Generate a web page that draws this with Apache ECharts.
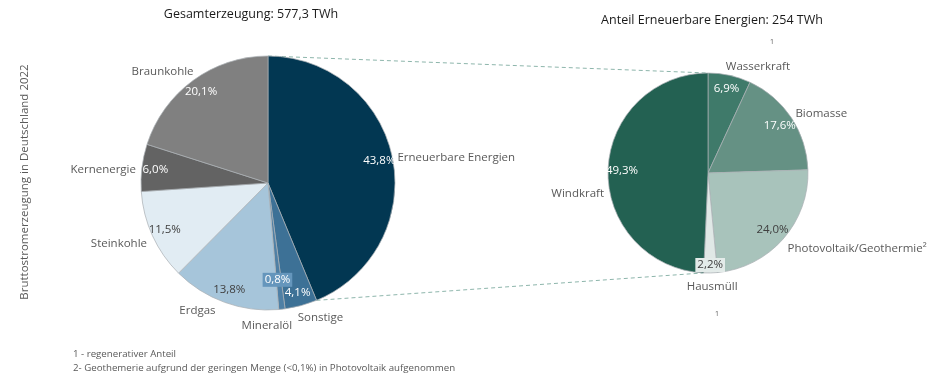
<!DOCTYPE html>
<html><head><meta charset="utf-8">
<script src="https://cdn.jsdelivr.net/npm/echarts@6/dist/echarts.min.js"></script>
<style>html,body{margin:0;padding:0;background:#fff}#c{width:931px;height:380px}</style>
</head><body><div id="c"></div>
<script>
// ---- data ----
const totalCategories = ['Erneuerbare Energien','Sonstige','Mineralöl','Erdgas','Steinkohle','Kernenergie','Braunkohle'];
const totalShares = [43.8, 4.1, 0.8, 13.8, 11.5, 6.0, 20.1];
const renewCategories = ['Wasserkraft','Biomasse','Photovoltaik/Geothermie²','Hausmüll','Windkraft'];
const renewShares = [6.9, 17.6, 24.0, 2.2, 49.3];
const titles = ['Gesamterzeugung: 577,3 TWh', 'Anteil Erneuerbare Energien: 254 TWh'];
const axisName = 'Bruttostromerzeugung in Deutschland 2022';
const footnotes = ['1 - regenerativer Anteil', '2- Geothemerie aufgrund der geringen Menge (<0,1%) in Photovoltaik aufgenommen'];

// ---- styles ----
const FONT = 'Open Sans';
const FS = 11.5;
const leftColors = ['#023752','#3d7196','#4f80a5','#a6c5da','#e1ecf3','#636363','#808080'];
const rightColors = ['#3f7a6a','#659184','#a8c3bb','#e0e8e6','#236152'];
const leftPctColors = ['#fff','#fff','#fff','#404040','#404040','#fff','#fff'];
const rightPctColors = ['#fff','#fff','#404040','#404040','#fff'];
const leftPctBg = [null,null,'#6596bc',null,null,null,null];
const rightPctBg = [null,null,null,'#e3ebe9',null];
const leftPctOffset = [[0,0],[0,0],[-3,-16],[0,0],[0,0],[0,0],[0,0]];
const rightPctOffset = [[0,0],[0,0],[0,0],[0,6],[0,0]];
const leftNameTweak = [{offset:[-6,1]}, {offset:[-10,6]}, {offset:[-46,11]}, {offset:[-2,3]}, {offset:[5,5]}, {offset:[5,3]}, {offset:[9,-4]}];
const rightNameTweak = [{offset:[-10,-3]}, {offset:[-6,-1]}, {offset:[-5,6]}, {offset:[-29,8]}, {offset:[7,23]}];

const LC = [268, 183], LR = 127;
const RC = [708, 173], RR = 100;

const fmt = v => v.toFixed(1).replace('.', ',') + '%';

function baseSeries(center, r, names, vals, colors) {
  return {
    type: 'pie', center: center, radius: r, startAngle: 90, silent: true,
    label: {show: false}, labelLine: {show: false},
    itemStyle: {borderColor: 'rgba(170,175,180,0.9)', borderWidth: 0.8},
    data: names.map((n, i) => ({name: n, value: vals[i], itemStyle: {color: colors[i]}}))
  };
}
function pctSeries(center, r0, r, names, vals, colors, bgs, offs) {
  return {
    type: 'pie', center: center, radius: [r0, r], startAngle: 90, silent: true,
    avoidLabelOverlap: false, minShowLabelAngle: 0,
    labelLayout: {hideOverlap: false},
    itemStyle: {color: 'rgba(0,0,0,0)'},
    labelLine: {show: false},
    label: {show: true, position: 'inside', fontFamily: FONT, fontSize: FS,
      formatter: p => fmt(p.value)},
    data: names.map((n, i) => ({name: n, value: vals[i],
      label: Object.assign({color: colors[i], offset: offs[i]}, bgs[i] ? {backgroundColor: bgs[i], padding: [1, 2]} : {})}))
  };
}
function nameSeries(center, r, names, vals, tweaks) {
  return {
    type: 'pie', center: center, radius: r, startAngle: 90, silent: true,
    avoidLabelOverlap: false, minShowLabelAngle: 0,
    labelLayout: {hideOverlap: false},
    itemStyle: {color: 'rgba(0,0,0,0)'},
    labelLine: {show: false, length: 6, length2: 0},
    label: {show: true, position: 'outside', fontFamily: FONT, fontSize: FS, color: '#595959',
      formatter: p => p.name},
    data: names.map((n, i) => ({name: n, value: vals[i], label: tweaks[i]}))
  };
}

// connector lines computed from pie geometry
function edgePoint(c, r, frac) {
  const a = frac * 2 * Math.PI;
  return [c[0] + r * Math.sin(a), c[1] - r * Math.cos(a)];
}
const renewFracEnd = totalShares[0] / totalShares.reduce((a, b) => a + b, 0);
const windStart = renewShares.slice(0, 4).reduce((a, b) => a + b, 0) / renewShares.reduce((a, b) => a + b, 0);
const p1 = edgePoint(LC, LR, 0), p2 = edgePoint(RC, RR, 0);
const p3 = edgePoint(LC, LR, renewFracEnd), p4 = edgePoint(RC, RR, windStart);
const dash = {stroke: '#8db5ab', lineWidth: 1, lineDash: [4, 3]};

const chart = echarts.init(document.getElementById('c'));
chart.setOption({
  animation: false,
  title: [
    {text: titles[0], left: 246, top: 3, textAlign: 'center', textStyle: {fontFamily: FONT, fontSize: 12.5, fontWeight: 'normal', color: '#1a1a1a'}},
    {text: titles[1], left: 707, top: 9, textAlign: 'center', textStyle: {fontFamily: FONT, fontSize: 12.5, fontWeight: 'normal', color: '#1a1a1a'}}
  ],
  graphic: [
    {type: 'line', shape: {x1: p1[0], y1: p1[1], x2: p2[0], y2: p2[1]}, style: dash, z: 0},
    {type: 'line', shape: {x1: p3[0], y1: p3[1], x2: p4[0], y2: p4[1]}, style: dash, z: 0},
    {type: 'text', x: 25, y: 182, rotation: Math.PI / 2, style: {text: axisName, fontFamily: FONT, fontSize: 11.5, fill: '#595959', textAlign: 'center', textVerticalAlign: 'middle'}},
    {type: 'text', x: 73, y: 354, style: {text: footnotes[0], fontFamily: FONT, fontSize: 9.7, fill: '#595959', textVerticalAlign: 'middle'}},
    {type: 'text', x: 73, y: 368, style: {text: footnotes[1], fontFamily: FONT, fontSize: 9.7, fill: '#595959', textVerticalAlign: 'middle'}},
    {type: 'text', x: 772, y: 42, style: {text: '1', fontFamily: FONT, fontSize: 7, fill: '#595959', textAlign: 'center', textVerticalAlign: 'middle'}},
    {type: 'text', x: 717, y: 314, style: {text: '1', fontFamily: FONT, fontSize: 7, fill: '#595959', textAlign: 'center', textVerticalAlign: 'middle'}}
  ],
  series: [
    baseSeries(LC, LR, totalCategories, totalShares, leftColors),
    pctSeries(LC, 94, LR, totalCategories, totalShares, leftPctColors, leftPctBg, leftPctOffset),
    nameSeries(LC, LR, totalCategories, totalShares, leftNameTweak),
    baseSeries(RC, RR, renewCategories, renewShares, rightColors),
    pctSeries(RC, 66, RR, renewCategories, renewShares, rightPctColors, rightPctBg, rightPctOffset),
    nameSeries(RC, RR, renewCategories, renewShares, rightNameTweak)
  ]
});
</script>
</body></html>
